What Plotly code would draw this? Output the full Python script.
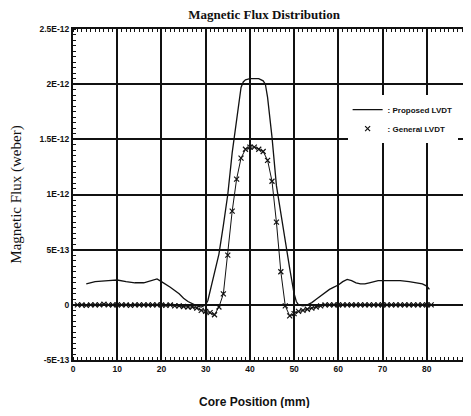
import plotly.graph_objects as go

# ---- data (flux in units of 1e-12 weber) ----
proposed_x = [3, 5, 8, 10, 12, 14, 16, 18, 19, 20, 22, 24, 25, 26, 27, 28, 29, 30, 30.5,
              31, 32, 33, 34, 35, 36, 37, 38, 38.5, 39, 40, 41, 42, 43, 43.5, 44, 45, 46,
              47, 48, 49, 50, 50.5, 51, 52, 53, 54, 55, 56, 57, 58, 59, 60, 61, 62, 63, 64,
              65, 66, 67, 68, 69, 70, 72, 74, 76, 78, 79, 80, 80.6]
proposed_y = [0.19, 0.21, 0.22, 0.225, 0.21, 0.20, 0.20, 0.22, 0.235, 0.21, 0.16, 0.10, 0.06,
              0.03, 0.01, -0.01, -0.02, 0.0, 0.04,
              0.12, 0.28, 0.46, 0.72, 1.0, 1.38, 1.70, 1.97, 2.02, 2.04, 2.05, 2.05, 2.05,
              2.03, 2.0, 1.88, 1.52, 1.08,
              0.82, 0.57, 0.33, 0.10, 0.03, 0.0, -0.01, 0.0, 0.02, 0.05, 0.08, 0.11, 0.14,
              0.16, 0.18, 0.21, 0.23, 0.22, 0.20,
              0.19, 0.19, 0.20, 0.21, 0.22, 0.22, 0.22, 0.22, 0.21, 0.20, 0.19, 0.17, 0.14]

general_x = list(range(1, 82))
general_y = ([0.0, 0.0, -0.005, 0.0, 0.0, 0.0, 0.005, 0.0, 0.0, 0.0,
              0.0, 0.0, -0.005, 0.0, 0.0, 0.0, 0.0, 0.0, 0.0, 0.0,
              -0.005, 0.0, -0.01, -0.01, -0.015, -0.02, -0.02, -0.03, -0.05, -0.06,
              -0.07, -0.09, -0.02, 0.10, 0.45, 0.85, 1.14, 1.33, 1.41, 1.43,
              1.43, 1.41, 1.39, 1.31, 1.12, 0.75, 0.30, -0.01, -0.10, -0.08,
              -0.06, -0.05, -0.04, -0.03, -0.02, -0.01]
             + [0.0] * 25)

x_ticks = [0, 10, 20, 30, 40, 50, 60, 70, 80, 90]
y_ticks = [-0.5, 0, 0.5, 1.0, 1.5, 2.0, 2.5]
y_tick_labels = ["-5E-13", "0", "5E-13", "1E-12", "1.5E-12", "2E-12", "2.5E-12"]

SANS = "Liberation Sans"
SERIF = "Liberation Serif"

fig = go.Figure()

# General LVDT: connecting line (no legend) + x markers (legend)
fig.add_trace(go.Scatter(
    x=general_x, y=general_y, mode="lines", showlegend=False,
    line=dict(color="#111", width=1), hoverinfo="skip",
))
fig.add_trace(go.Scatter(
    x=general_x, y=general_y, mode="markers", name=": General LVDT",
    marker=dict(symbol="x-thin", size=5, line=dict(color="#111", width=1.2)),
))
fig.add_trace(go.Scatter(
    x=proposed_x, y=proposed_y, mode="lines", name=": Proposed LVDT",
    line=dict(color="#111", width=1.3),
))

# page body has an 8px margin; figure sized so the page does not scroll
fig.update_layout(
    width=463, height=400,
    margin=dict(l=65, r=0, t=21, b=48, autoexpand=False),
    paper_bgcolor="white", plot_bgcolor="white",
    showlegend=True,
    legend=dict(x=0.69, y=0.80, xanchor="left", yanchor="top",
                bgcolor="white", borderwidth=0, traceorder="reversed",
                font=dict(family=SANS, size=8, color="#111", weight="bold"),
                itemwidth=30, tracegroupgap=14),
    title=dict(text="Magnetic Flux Distribution", x=0.48, xref="paper",
               y=0.985, yref="container", xanchor="center", yanchor="middle",
               font=dict(family=SERIF, size=13, color="#111", weight="bold")),
    annotations=[dict(text="Core Position (mm)", x=0.457, xref="paper",
                      y=-0.127, yref="paper", showarrow=False,
                      xanchor="center", yanchor="middle",
                      font=dict(family=SANS, size=12, color="#111", weight="bold"))],
)

fig.update_xaxes(
    range=[0, 90], tickvals=x_ticks, ticks="", showgrid=True, automargin=False,
    ticklabeloverflow="allow",
    gridcolor="#111", gridwidth=2, zeroline=False,
    showline=True, linecolor="#111", linewidth=2, mirror="allticks",
    tickfont=dict(family=SANS, size=8.5, color="#111", weight="bold"),
    minor=dict(ticks="inside", dtick=1, ticklen=3, tickcolor="#111", showgrid=False),
)
fig.update_yaxes(
    range=[-0.5, 2.5], tickvals=y_ticks, ticktext=y_tick_labels, ticks="",
    showgrid=True, gridcolor="#111", gridwidth=2, zeroline=False, automargin=False,
    ticklabeloverflow="allow",
    showline=True, linecolor="#111", linewidth=2, mirror="allticks",
    tickfont=dict(family=SANS, size=8.5, color="#111", weight="bold"),
    minor=dict(ticks="inside", dtick=0.05, ticklen=3, tickcolor="#111", showgrid=False),
    title=dict(text="Magnetic Flux (weber)", standoff=20,
               font=dict(family=SERIF, size=15, color="#111")),
)

fig.write_html("out.html")
